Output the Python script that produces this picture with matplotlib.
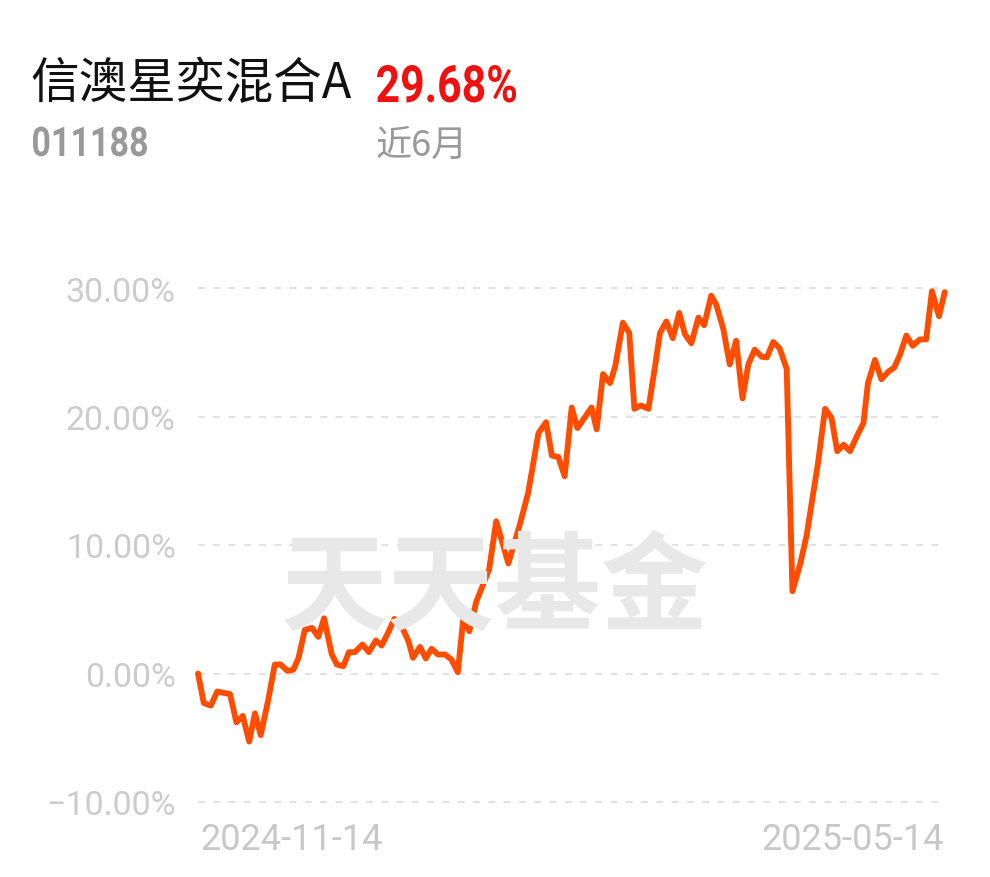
import matplotlib.pyplot as plt
from matplotlib.textpath import TextPath
from matplotlib.font_manager import FontProperties
from matplotlib.patches import PathPatch
from matplotlib.transforms import Affine2D, IdentityTransform

plt.rcParams['font.family'] = ['Noto Sans CJK SC', 'DejaVu Sans']
plt.rcParams['lines.scale_dashes'] = False

# 基金信息
fund_name = "信澳星奕混合A"
fund_code = "011188"
period_label = "近6月"
period_return = "29.68%"
start_date = "2024-11-14"
end_date = "2025-05-14"

# 累计收益率 (%) - 交易日序号 / 数值
day = [0.0, 0.9, 2.0, 3.0, 3.9, 5.0, 6.0, 7.0, 8.0, 8.9, 9.8, 11.0, 12.0, 12.9,
       14.0, 14.9, 15.7, 16.7, 17.8, 18.8, 19.7, 20.9, 21.7, 22.7, 23.6, 24.5,
       25.7, 26.7, 27.8, 28.7, 29.7, 30.7, 31.8, 32.9, 33.6, 34.7, 35.6, 36.5,
       37.5, 38.6, 39.6, 40.6, 41.5, 42.4, 43.5, 45.5, 46.6, 48.5, 50.3, 51.6,
       53.2, 54.4, 55.3, 56.3, 57.3, 58.4, 59.3, 61.5, 62.3, 63.3, 64.4, 65.2,
       66.4, 67.4, 68.2, 69.2, 70.4, 71.3, 72.2, 73.2, 74.2, 75.2, 76.1, 77.1,
       78.2, 79.1, 80.2, 81.0, 82.1, 83.1, 84.1, 85.1, 86.0, 87.0, 88.1, 88.9,
       89.9, 90.9, 92.0, 92.9, 94.1, 95.1, 96.9, 98.0, 99.0, 99.9, 100.9, 101.9,
       103.0, 104.0, 104.7, 105.8, 106.8, 107.9, 108.8, 109.7, 110.7, 111.7,
       112.8, 113.8, 114.7, 115.8, 116.7]
ret = [0.0, -2.3, -2.5, -1.4, -1.5, -1.6, -3.8, -3.3, -5.3, -3.1, -4.8, -2.0,
       0.7, 0.7, 0.2, 0.3, 1.2, 3.4, 3.55, 2.85, 4.3, 1.5, 0.7, 0.57, 1.66,
       1.66, 2.26, 1.66, 2.57, 2.18, 3.17, 4.25, 3.7, 2.5, 1.22, 2.07, 1.17,
       1.92, 1.48, 1.48, 1.09, 0.1, 4.46, 3.29, 5.6, 8.1, 11.85, 8.56, 11.6,
       14.06, 18.7, 19.56, 16.96, 16.86, 15.35, 20.7, 19.1, 20.7, 19.0, 23.3,
       22.6, 23.9, 27.3, 26.5, 20.6, 20.86, 20.6, 23.5, 26.5, 27.4, 26.1, 28.06,
       26.4, 25.7, 27.7, 27.1, 29.4, 28.7, 26.8, 24.05, 25.9, 21.4, 24.05, 25.2,
       24.65, 24.6, 25.8, 25.3, 23.7, 6.4, 8.5, 10.7, 16.4, 20.6, 19.9, 17.3,
       17.8, 17.3, 18.5, 19.5, 22.6, 24.4, 22.9, 23.5, 23.8, 24.8, 26.3, 25.5,
       26.0, 26.0, 29.75, 27.8, 29.68]

yticks = [-10, 0, 10, 20, 30]
ytick_labels = ["\u221210.00%", "0.00%", "10.00%", "20.00%", "30.00%"]

W, H = 990, 878
fig = plt.figure(figsize=(W / 100, H / 100), dpi=100)
ax = fig.add_axes([198 / W, (H - 803) / H, (946 - 198) / W, (803 - 289) / H])

ax.set_xlim(0, 116.9)
ax.set_ylim(-10, 30)

for v in yticks:
    ax.axhline(v, color='#e2e2e2', lw=1.5, dashes=(5, 6), zorder=1, clip_on=False)

ax.plot(day, ret, color='#ff4d00', lw=4.2, solid_joinstyle='round',
        solid_capstyle='round', zorder=3, clip_on=False)

ax.set_yticks(yticks)
ax.set_yticklabels(ytick_labels, family=['Roboto', 'DejaVu Sans'],
                   fontsize=24.5, color='#cccccc')
ax.tick_params(axis='y', length=0, pad=16)
ax.set_xticks([])
for s in ax.spines.values():
    s.set_visible(False)

# 水印
fig.text(495 / W, 1 - 590 / H, "天天基金", fontsize=77, fontweight='bold',
         color='#e8e8e8', ha='center', va='center', zorder=0)

# 日期
fig.text(200 / W, 1 - 840 / H, start_date, family=['Roboto', 'DejaVu Sans'],
         fontsize=26, color='#c8c8c8', ha='left', va='center')
fig.text(944 / W, 1 - 840 / H, end_date, family=['Roboto', 'DejaVu Sans'],
         fontsize=26, color='#c8c8c8', ha='right', va='center')


# 窄体粗字 (没有 condensed 字体, 用路径横向压缩)
def narrow_text(s, left, baseline, cap_px, width_px, color):
    fp = FontProperties(family='Roboto', weight='bold')
    tp = TextPath((0, 0), s, size=100, prop=fp)
    ext = tp.get_extents()
    tr = (Affine2D().translate(-ext.x0, 0)
          .scale(width_px / ext.width, cap_px / ext.y1)
          .translate(left, H - baseline))
    fig.add_artist(PathPatch(tr.transform_path(tp), facecolor=color,
                             edgecolor='none', transform=IdentityTransform()))


# 标题
fig.text(30 / W, 1 - 84 / H, fund_name, fontsize=35, color='#111111',
         ha='left', va='center')
narrow_text(period_return, 377, 103, 37, 139, '#f01010')
narrow_text(fund_code, 33, 157, 29.5, 114, '#999999')
fig.text(376 / W, 1 - 146 / H, period_label, fontsize=26, color='#999999',
         ha='left', va='center')

fig.savefig("out.png", dpi=100, facecolor='white')
